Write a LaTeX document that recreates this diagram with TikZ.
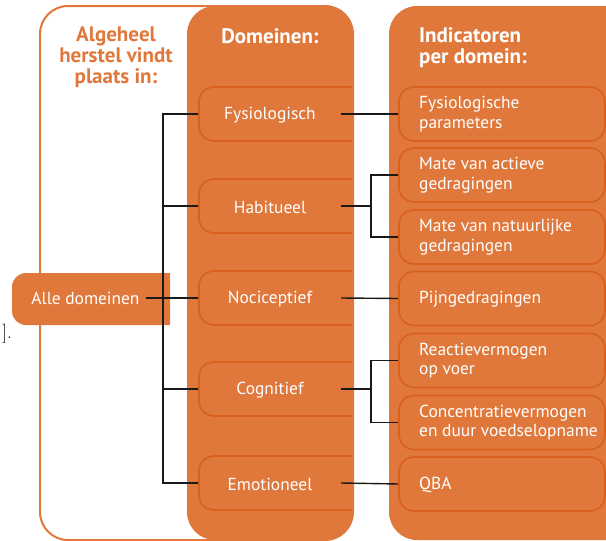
\documentclass[tikz,border=0pt]{standalone}
\usepackage{fontspec}
\newfontfamily\dinfont{PT Sans}
\definecolor{org}{HTML}{E0783C}
\definecolor{orgdark}{HTML}{D9601C}
\begin{document}
\begin{tikzpicture}[x=1pt,y=-1pt,
 conn/.style={draw=black!90, line width=1.4pt},
 dombox/.style={draw=orgdark, fill=org, line width=1.6pt, rounded corners=15pt, minimum width=181pt, minimum height=54pt, inner sep=0pt},
 indbox/.style={draw=orgdark, fill=org, line width=1.6pt, rounded corners=15pt, minimum width=206pt, minimum height=54pt, inner sep=0pt},
 lbl/.style={text=white, font=\dinfont\fontsize{17.4}{19.8}\selectfont, inner sep=0pt, align=left},
 head/.style={font=\dinfont\bfseries\fontsize{21}{21}\selectfont, inner sep=0pt}]
\useasboundingbox (0,0) rectangle (606,541);
% columns
\fill[org, rounded corners=28pt] (187,6) rectangle (353,540);
\fill[org, rounded corners=28pt] (389,6) rectangle (640,540);
% domain boxes (clipped at the column edge)
\begin{scope}
\clip (187,0) rectangle (352,541);
\node[dombox] (fysbox) at (289.5,114) {};
\node[dombox] (habbox) at (289.5,206) {};
\node[dombox] (nocbox) at (289.5,298) {};
\node[dombox] (cogbox) at (289.5,389) {};
\node[dombox] (emobox) at (289.5,483) {};
\end{scope}
% outer frame
\draw[org, line width=2pt, rounded corners=28pt] (40,6) rectangle (353,540);
% indicator boxes
\node[indbox] (i1) at (502,114) {};
\node[indbox] (i2) at (502,175) {};
\node[indbox] (i3) at (502,237) {};
\node[indbox] (i4) at (502,298.5) {};
\node[indbox] (i5) at (502,360.5) {};
\node[indbox] (i6) at (502,422.5) {};
\node[indbox] (i7) at (502,484) {};
% Alle domeinen box
\begin{scope}
\clip (0,0) rectangle (170,541);
\fill[org, rounded corners=14pt] (12,273) rectangle (200,325);
\end{scope}
% headings
\node[head, text=org, align=center] (hleft) at (116,57) {Algeheel\\herstel vindt\\plaats in:};
\node[head, text=white] (hdom) at (270,36) {Domeinen:};
\node[head, text=white, align=left, anchor=west] (hind) at (419,48) {Indicatoren\\per domein:};
% labels
\node[lbl, inner xsep=6pt] (alle) at (85.5,298) {Alle domeinen};
\node[lbl] (fys) at (270,115) {Fysiologisch};
\node[lbl] (hab) at (270,207) {Habitueel};
\node[lbl] (noc) at (270,299) {Nociceptief};
\node[lbl] (cog) at (270,390) {Cognitief};
\node[lbl] (emo) at (270,484) {Emotioneel};
\node[lbl, anchor=west] (t1) at (419,114) {Fysiologische\\parameters};
\node[lbl, anchor=west] (t2) at (419,175) {Mate van actieve\\gedragingen};
\node[lbl, anchor=west] (t3) at (419,237) {Mate van natuurlijke\\gedragingen};
\node[lbl, anchor=west] (t4) at (419,299.5) {Pijngedragingen};
\node[lbl, anchor=west] (t5) at (419,360.5) {Reactievermogen\\op voer};
\node[lbl, anchor=west] (t6) at (419,422.5) {Concentratievermogen\\en duur voedselopname};
\node[lbl, anchor=west] (t7) at (419,485) {QBA};
\node[font=\fontsize{19}{20}\selectfont, inner sep=0pt] (stray) at (7,334) {].};
% connectors left
\coordinate (tr) at (163,0);
\draw[conn] (fysbox.west) -| (tr |- emobox.west) -- (emobox.west);
\draw[conn] (habbox.west) -- (habbox.west -| tr);
\draw[conn] (cogbox.west) -- (cogbox.west -| tr);
\draw[conn] (alle.east) -- (alle.east -| nocbox.west);
% connectors right
\coordinate (jx) at (371,0);
\coordinate (fysr) at ([xshift=143pt]fysbox.west);
\coordinate (habr) at ([xshift=143pt]habbox.west);
\coordinate (nocr) at ([xshift=143pt]nocbox.west);
\coordinate (cogr) at ([xshift=143pt]cogbox.west);
\coordinate (emor) at ([xshift=143pt]emobox.west);
\draw[conn] (fysr) -- (i1.west);
\draw[conn] (habr) -- (habr -| jx);
\draw[conn] (i2.west) -| (jx |- i3.west) -- (i3.west);
\draw[conn] (nocr) -- (i4.west);
\draw[conn] (cogr) -- (cogr -| jx);
\draw[conn] (i5.west) -| (jx |- i6.west) -- (i6.west);
\draw[conn] (emor) -- (i7.west);
\end{tikzpicture}
\end{document}
